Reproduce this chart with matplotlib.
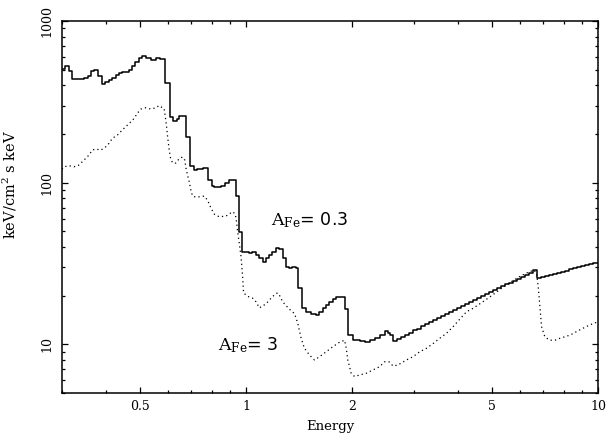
"""Model spectra for two iron abundances, log-log step plot."""

import matplotlib
matplotlib.use("Agg")
import matplotlib.pyplot as plt
from matplotlib.ticker import FixedLocator, FuncFormatter, NullFormatter

# A_Fe = 0.3 model: left bin edge (keV) and flux of each histogram bin
solid_energy = [
    0.300, 0.306, 0.314, 0.321, 0.347, 0.355, 0.363, 0.371, 0.380, 0.389,
    0.398, 0.407, 0.416, 0.426, 0.436, 0.445, 0.465, 0.475, 0.484, 0.495,
    0.507, 0.520, 0.538, 0.556, 0.570, 0.587, 0.607, 0.621, 0.635, 0.646,
    0.674, 0.692, 0.712, 0.727, 0.756, 0.779, 0.799, 0.813, 0.851, 0.873,
    0.896, 0.935, 0.954, 0.976, 1.022, 1.042, 1.070, 1.091, 1.116, 1.142,
    1.165, 1.188, 1.220, 1.244, 1.273, 1.302, 1.328, 1.355, 1.391, 1.405,
    1.443, 1.482, 1.531, 1.582, 1.617, 1.652, 1.690, 1.726, 1.764, 1.804,
    1.905, 1.946, 2.011, 2.101, 2.171, 2.244, 2.319, 2.396, 2.476, 2.525,
    2.558, 2.609, 2.678, 2.749, 2.822, 2.897, 2.974, 3.053, 3.135, 3.218,
    3.304, 3.392, 3.481, 3.574, 3.669, 3.767, 3.867, 3.970, 4.075, 4.184,
    4.295, 4.409, 4.527, 4.645, 4.769, 4.896, 5.026, 5.160, 5.297, 5.438,
    5.583, 5.731, 5.884, 6.039, 6.200, 6.365, 6.534, 6.692, 6.884, 7.067,
    7.255, 7.447, 7.644, 7.847, 8.056, 8.270, 8.489, 8.715, 8.946, 9.185,
    9.429, 9.678,
]
solid_flux = [
    508, 526, 494, 435, 443, 459, 490, 501, 456, 405,
    417, 431, 445, 463, 476, 485, 501, 528, 559, 587,
    609, 592, 573, 592, 581, 411, 256, 239, 247, 258,
    191, 127, 120, 121, 123, 104, 96, 93.5, 95.3, 99.9,
    104, 82.6, 49.7, 37.4, 36.5, 37.1, 35.7, 34.0, 32.4, 34.0,
    35.7, 37.4, 39.3, 38.7, 34.0, 30.2, 29.5, 30.2, 29.5, 22.2,
    16.7, 15.9, 15.5, 15.2, 15.9, 16.7, 17.5, 18.3, 19.0, 19.5,
    16.5, 11.4, 10.6, 10.5, 10.4, 10.7, 11.0, 11.4, 12.1, 11.8,
    11.4, 10.5, 10.8, 11.1, 11.5, 11.8, 12.2, 12.5, 12.9, 13.3,
    13.7, 14.1, 14.5, 15.0, 15.4, 15.8, 16.3, 16.8, 17.2, 17.8,
    18.3, 18.8, 19.3, 19.9, 20.5, 21.1, 21.6, 22.2, 22.8, 23.5,
    24.1, 24.8, 25.4, 26.1, 26.8, 27.5, 28.8, 25.8, 26.1, 26.6,
    27.0, 27.4, 27.8, 28.2, 28.6, 29.1, 29.5, 30.0, 30.4, 30.9,
    31.4, 31.9,
]
solid_end = 10.0

# A_Fe = 3 model
dotted_energy = [
    0.300, 0.304, 0.314, 0.3245, 0.335, 0.3465, 0.358, 0.366, 0.374, 0.387,
    0.3995, 0.408, 0.417, 0.431, 0.445, 0.455, 0.471, 0.481, 0.491, 0.5025,
    0.519, 0.5365, 0.554, 0.5665, 0.579, 0.585, 0.589, 0.594, 0.598, 0.605,
    0.611, 0.619, 0.632, 0.646, 0.660, 0.670, 0.675, 0.682, 0.690, 0.697,
    0.705, 0.720, 0.745, 0.761, 0.777, 0.795, 0.8125, 0.839, 0.877, 0.916,
    0.932, 0.940, 0.9465, 0.957, 0.968, 0.978, 0.984, 1.011, 1.044, 1.068,
    1.091, 1.140, 1.178, 1.212, 1.230, 1.248, 1.271, 1.328, 1.3725, 1.403,
    1.434, 1.4655, 1.514, 1.565, 1.617, 1.690, 1.764, 1.843, 1.905, 1.926,
    1.946, 1.990, 2.034, 2.101, 2.196, 2.293, 2.396, 2.476, 2.558, 2.615,
    2.702, 2.855, 2.981, 3.115, 3.255, 3.398, 3.551, 3.710, 3.874, 4.048,
    4.230, 4.416, 4.614, 4.822, 5.035, 5.260, 5.497, 5.741, 5.998, 6.266,
    6.574, 6.692, 6.763, 6.838, 6.914, 7.065, 7.302, 7.545, 7.796, 8.325,
    8.887, 9.489, 10.0,
]
dotted_flux = [
    121.4, 125.4, 127.2, 125.4, 128.5, 138.0, 148.2, 159.1, 161.4, 159.1,
    166.7, 175.0, 187.9, 197.0, 211.5, 221.7, 238.1, 249.9, 268.3, 285.3,
    290.6, 285.3, 290.6, 299.9, 290.6, 288.1, 261.9, 227.1, 197.0, 159.1,
    140.0, 132.2, 132.2, 141.0, 144.0, 138.0, 123.1, 111.4, 100.9, 90.0,
    82.6, 81.4, 82.0, 82.6, 78.1, 69.7, 63.9, 61.5, 62.1, 66.1,
    63.9, 57.3, 49.7, 42.1, 34.8, 26.2, 20.8, 19.8, 19.3, 18.3,
    16.8, 17.8, 19.3, 20.5, 20.8, 19.9, 18.3, 16.5, 15.5, 13.5,
    10.9, 9.45, 8.59, 8.00, 8.38, 9.00, 9.66, 10.3, 10.6, 9.49,
    8.00, 6.62, 6.32, 6.46, 6.62, 6.94, 7.27, 7.80, 7.77, 7.34,
    7.45, 8.00, 8.38, 9.00, 9.45, 10.1, 10.9, 11.7, 12.85, 14.3,
    15.9, 16.7, 17.8, 19.0, 20.3, 21.8, 23.4, 24.8, 26.3, 27.6,
    28.8, 27.5, 22.7, 17.1, 12.85, 11.1, 10.6, 10.6, 10.9, 11.4,
    12.3, 13.2, 13.8,
]

x_labeled = [0.5, 1, 2, 5, 10]
x_minor = [0.3, 0.4, 0.6, 0.7, 0.8, 0.9, 3, 4, 6, 7, 8, 9]
y_major = [10, 100, 1000]
x_limits = (0.3, 10)
y_limits = (5, 1000)

label_text = [r"$\mathrm{A_{Fe}}$= 0.3", r"$\mathrm{A_{Fe}}$= 3"]
label_pos = [(1.178, 54.7), (0.830, 9.22)]


def main():
    plt.rcParams["font.family"] = ["DejaVu Serif"]
    plt.rcParams["mathtext.fontset"] = "dejavuserif"

    fig = plt.figure(figsize=(6.07, 4.34), dpi=100)
    ax = fig.add_axes([0.1021, 0.0945, 0.8831, 0.8571])
    ax.set_xscale("log")
    ax.set_yscale("log")

    ax.plot(solid_energy + [solid_end], solid_flux + [solid_flux[-1]],
            drawstyle="steps-post", color="black", lw=1.1)
    ax.plot(dotted_energy, dotted_flux, color="black", lw=0.9,
            linestyle=(0, (1, 2.5)))

    for txt, (x, y) in zip(label_text, label_pos):
        ax.text(x, y, txt, fontsize=12.5, ha="left", va="baseline",
                family=["DejaVu Sans"])

    ax.set_xlim(*x_limits)
    ax.set_ylim(*y_limits)

    ax.xaxis.set_major_locator(FixedLocator(x_labeled))
    ax.xaxis.set_major_formatter(FuncFormatter(lambda v, p: f"{v:g}"))
    ax.xaxis.set_minor_locator(FixedLocator(x_minor))
    ax.xaxis.set_minor_formatter(NullFormatter())
    ax.yaxis.set_major_locator(FixedLocator(y_major))
    ax.yaxis.set_major_formatter(FuncFormatter(lambda v, p: f"{v:g}"))
    ax.yaxis.set_minor_formatter(NullFormatter())

    ax.tick_params(which="both", direction="in", top=True, right=True,
                   labelsize=9, width=0.9)
    ax.tick_params(which="major", length=4.5)
    ax.tick_params(which="minor", length=2.5)
    ax.tick_params(axis="x", pad=5)
    ax.tick_params(axis="y", pad=6, labelrotation=90)
    for lab in ax.get_yticklabels():
        lab.set_va("center")
    for sp in ax.spines.values():
        sp.set_linewidth(1.1)

    ax.set_xlabel("Energy", fontsize=9.5)
    ax.xaxis.set_label_coords(0.5, -0.072)
    ax.set_ylabel(r"keV/cm$^2$ s keV", fontsize=10.5)
    ax.yaxis.set_label_coords(-0.080, 0.562)

    fig.savefig("out.png", dpi=100)
    plt.close(fig)


if __name__ == "__main__":
    main()
